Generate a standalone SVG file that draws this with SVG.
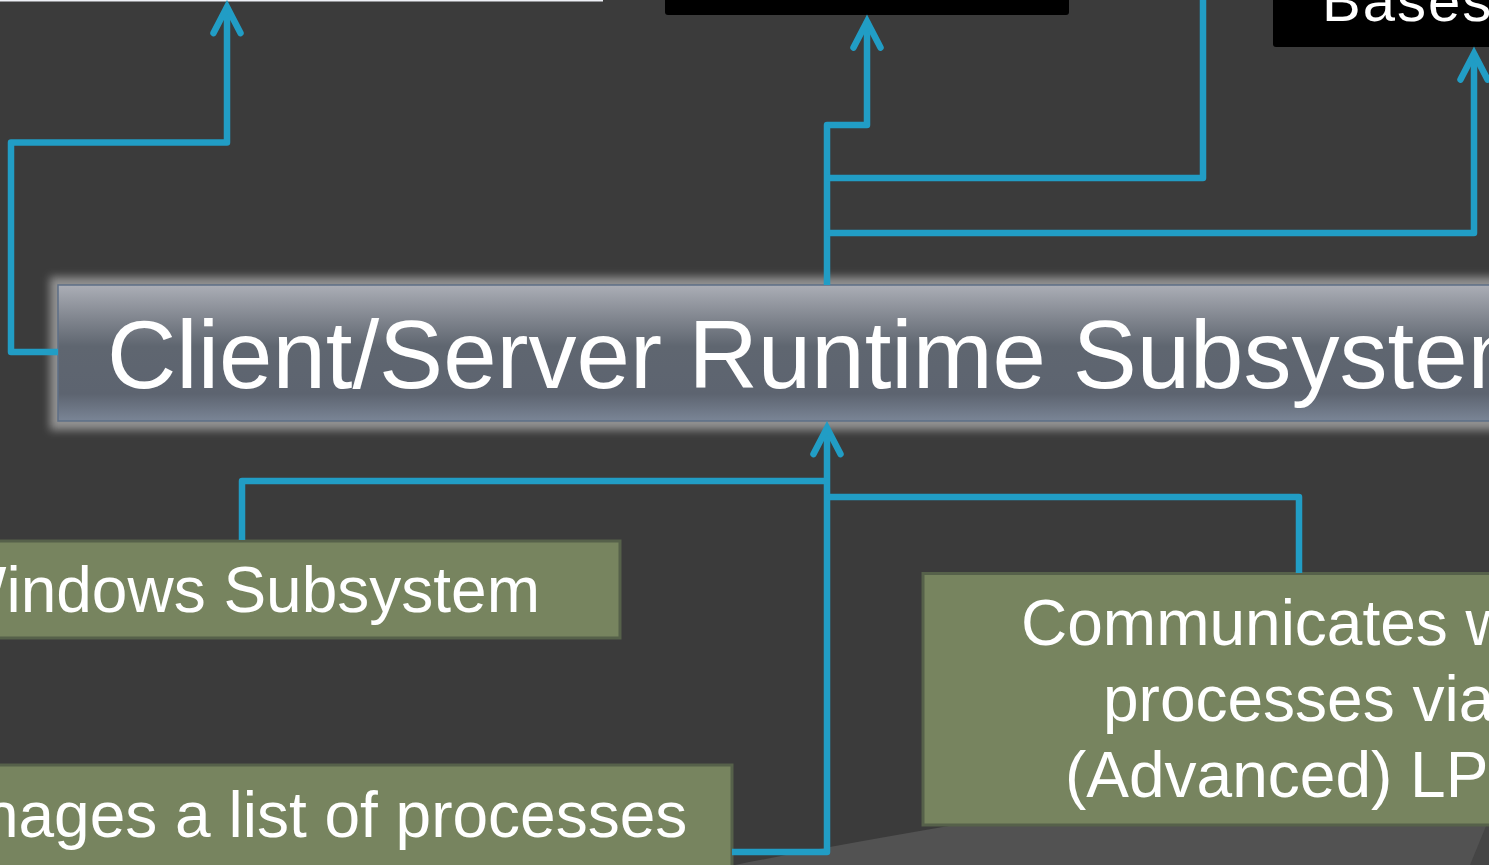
<svg xmlns="http://www.w3.org/2000/svg" width="1489" height="865" viewBox="0 0 1489 865">
  <defs>
    <style>
      .conn { fill: none; stroke: #219dc5; stroke-width: 6.5; stroke-linejoin: round; }
      .green { fill: #77845f; stroke: #56614a; stroke-width: 3; }
      .black { fill: #000000; }
      .txt { font-family: "Liberation Sans", Arial, sans-serif; fill: #ffffff; }
    </style>
    <marker id="arr" markerUnits="userSpaceOnUse" orient="auto" refX="0" refY="0" markerWidth="50" markerHeight="50" viewBox="-40 -25 50 50" overflow="visible">
      <path d="M-26,-13.5 L0,0 L-26,13.5" fill="none" stroke="#219dc5" stroke-width="6.5" stroke-linecap="round" stroke-linejoin="miter" stroke-miterlimit="10"/>
    </marker>
    <linearGradient id="csGrad" x1="0" y1="0" x2="0" y2="1">
      <stop offset="0" stop-color="#abaeb6"/>
      <stop offset="0.25" stop-color="#80858e"/>
      <stop offset="0.45" stop-color="#5f6670"/>
      <stop offset="0.8" stop-color="#5d6470"/>
      <stop offset="1" stop-color="#7a8596"/>
    </linearGradient>
    <filter id="glow" x="-5%" y="-30%" width="110%" height="160%">
      <feGaussianBlur stdDeviation="4"/>
    </filter>
  </defs>

  <rect x="0" y="0" width="1489" height="865" fill="#3b3b3b"/>

  <!-- bottom floor shape -->
  <path d="M735,865 C800,852 880,838 960,824 L1489,824 L1489,865 Z" fill="#525252"/>
  <path d="M1486,826 L1470,865 L1489,865 L1489,826 Z" fill="#454545"/>

  <g id="node-top-left">
    <rect x="-10" y="-40" width="613" height="41.5" fill="#eef0f6"/>
  </g>

  <g id="node-top-center">
    <rect class="black" x="665" y="-40" width="404" height="55" rx="3"/>
  </g>

  <g id="node-bases">
    <rect class="black" x="1273" y="-40" width="260" height="87" rx="3"/>
    <text class="txt" x="1322" y="21" font-size="58" letter-spacing="2">Bases</text>
  </g>

  <g id="node-csrss">
    <rect x="50" y="277" width="1500" height="153" fill="#929292" filter="url(#glow)"/>
    <rect x="58" y="285" width="1500" height="136" fill="url(#csGrad)" stroke="#5d6f86" stroke-width="1.5"/>
    <text class="txt" x="107" y="388" font-size="96">Client/Server Runtime Subsystem</text>
  </g>

  <g id="node-windows-subsystem">
    <rect class="green" x="-20" y="541" width="640" height="97"/>
    <text class="txt" x="-54" y="612" font-size="64">Windows Subsystem</text>
  </g>

  <g id="node-process-list">
    <rect class="green" x="-20" y="765" width="752" height="130"/>
    <text class="txt" x="-106" y="837" font-size="64">Manages a list of processes</text>
  </g>

  <g id="node-lpc">
    <rect class="green" x="923" y="573.5" width="620" height="251.5"/>
    <text class="txt" font-size="64">
      <tspan x="1021" y="645">Communicates w</tspan>
      <tspan x="1103" y="721">processes via</tspan>
      <tspan x="1065" y="797">(Advanced) LP</tspan>
    </text>
  </g>

  <g id="connectors">
    <path class="conn" d="M58,352 H11 V142.5 H227 V7" marker-end="url(#arr)"/>
    <path class="conn" d="M827,285 V125 H867 V21.5" marker-end="url(#arr)"/>
    <path class="conn" d="M827,178 H1203 V-10"/>
    <path class="conn" d="M827,233 H1474 V53.5" marker-end="url(#arr)"/>
    <path class="conn" d="M732,852 H827 V428" marker-end="url(#arr)"/>
    <path class="conn" d="M242,540 V481 H827"/>
    <path class="conn" d="M1299,573 V497 H827"/>
  </g>
</svg>
